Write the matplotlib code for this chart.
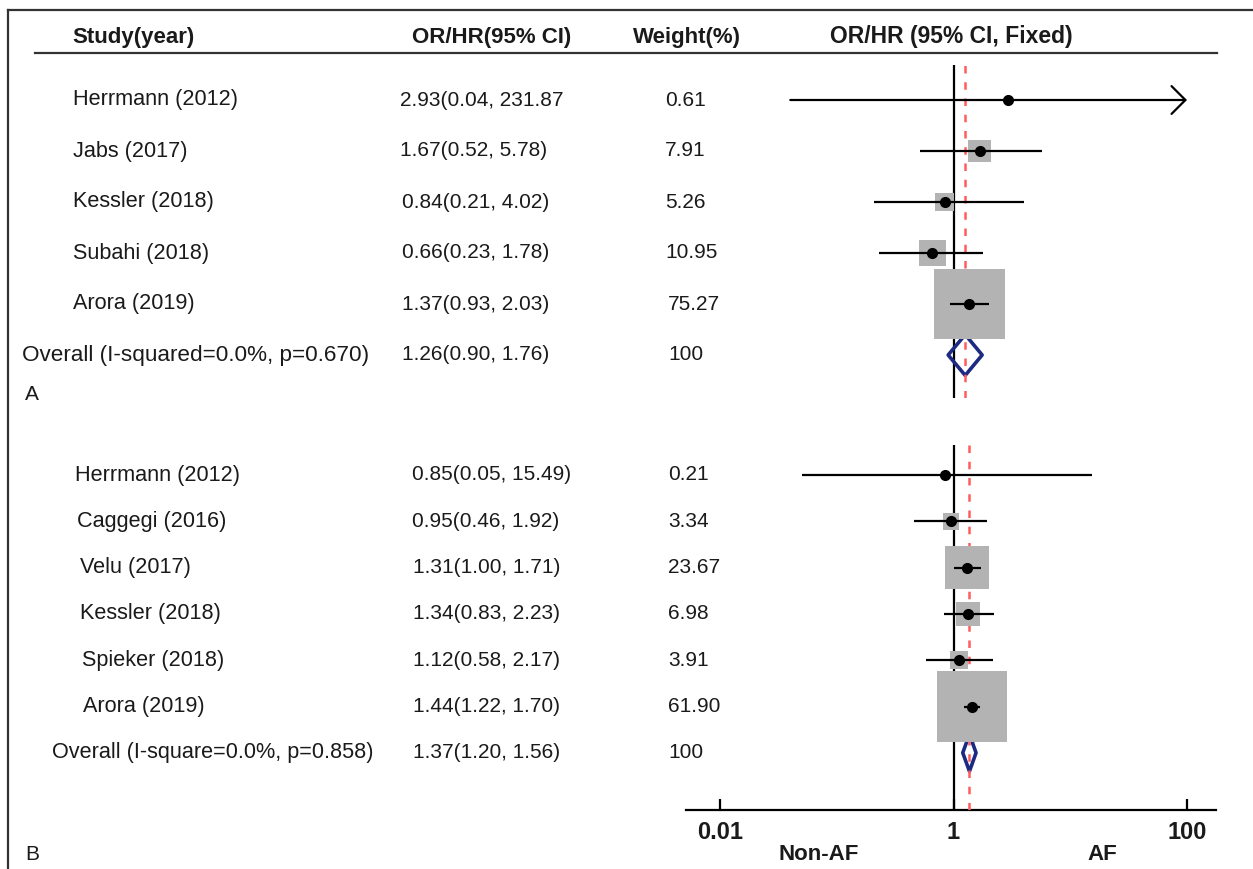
import numpy as np
import matplotlib
matplotlib.use("Agg")
import matplotlib.pyplot as plt
from matplotlib.patches import Rectangle, Polygon
from matplotlib.transforms import blended_transform_factory

plt.rcParams['font.family'] = ['Liberation Sans', 'DejaVu Sans']

# Panel A
studies_a = ["Herrmann (2012)", "Jabs (2017)", "Kessler (2018)", "Subahi (2018)", "Arora (2019)"]
est_a = [2.93, 1.67, 0.84, 0.66, 1.37]
lo_a = [0.04, 0.52, 0.21, 0.23, 0.93]
hi_a = [231.87, 5.78, 4.02, 1.78, 2.03]
wt_a = [0.61, 7.91, 5.26, 10.95, 75.27]
overall_a = ("Overall (I-squared=0.0%, p=0.670)", 1.26, 0.90, 1.76)

# Panel B
studies_b = ["Herrmann (2012)", "Caggegi (2016)", "Velu (2017)", "Kessler (2018)",
             "Spieker (2018)", "Arora (2019)"]
est_b = [0.85, 0.95, 1.31, 1.34, 1.12, 1.44]
lo_b = [0.05, 0.46, 1.00, 0.83, 0.58, 1.22]
hi_b = [15.49, 1.92, 1.71, 2.23, 2.17, 1.70]
wt_b = [0.21, 3.34, 23.67, 6.98, 3.91, 61.90]
overall_b = ("Overall (I-square=0.0%, p=0.858)", 1.37, 1.20, 1.56)

xticks = [0.01, 1, 100]
xticklabels = ["0.01", "1", "100"]

W, H = 1253, 869
TXT = "#1a1a1a"
FS = 15       # numeric columns
FS_LAB = 15.6  # study names

fig = plt.figure(figsize=(W / 100, H / 100), dpi=100)
bg = fig.add_axes([0, 0, 1, 1])
bg.set_xlim(0, W)
bg.set_ylim(H, 0)
bg.axis("off")

# frame and header rule
bg.plot([8, W], [10, 10], color="#333333", lw=1.6)
bg.plot([8, 8], [10, H], color="#333333", lw=1.6)
bg.plot([35, 1217], [53, 53], color="#333333", lw=1.6)

bg.text(72, 37, "Study(year)", fontsize=16, fontweight="bold", va="center", color=TXT)
bg.text(412, 37, "OR/HR(95% CI)", fontsize=16, fontweight="bold", va="center", color=TXT)
bg.text(633, 37, "Weight(%)", fontsize=16, fontweight="bold", va="center", color=TXT)
bg.text(830, 37, "OR/HR (95% CI, Fixed)", fontsize=16.5, fontweight="bold", va="center", color=TXT)
bg.text(25, 395, "A", fontsize=FS, va="center", color=TXT)
bg.text(25, 855, "B", fontsize=FS, va="center", color=TXT)
bg.text(819, 855, "Non-AF", fontsize=16, fontweight="bold", va="center", ha="center", color=TXT)
bg.text(1102, 855, "AF", fontsize=16, fontweight="bold", va="center", ha="center", color=TXT)

# log x range so that 0.01 -> 720px and 100 -> 1187px
ppd = (1187 - 720) / 4.0
x0, x1 = 686, 1216
xmin = 10 ** (-2 - (720 - x0) / ppd)
xmax = 10 ** (2 + (x1 - 1187) / ppd)


def panel(top, bottom, row0, spacing, studies, est, lo, hi, wt, overall,
          box_k, lab_x, or_x, wt_x, overall_fs, show_axis):
    ax = fig.add_axes([x0 / W, 1 - bottom / H, (x1 - x0) / W, (bottom - top) / H])
    ax.patch.set_visible(False)
    ax.set_xscale("log")
    ax.set_xlim(xmin, xmax)
    ax.set_ylim((bottom - row0) / spacing, (top - row0) / spacing)
    for s in ["top", "left", "right"]:
        ax.spines[s].set_visible(False)
    ax.set_yticks([])
    ax.minorticks_off()
    if show_axis:
        ax.spines["bottom"].set_linewidth(1.6)
        ax.set_xticks(xticks)
        ax.set_xticklabels(xticklabels, fontsize=17, fontweight="bold", color=TXT)
        ax.tick_params(axis="x", direction="in", length=8, width=1.6, pad=8)
    else:
        ax.spines["bottom"].set_visible(False)
        ax.set_xticks([])

    name_o, est_o, lo_o, hi_o = overall
    ax.axvline(1, color="black", lw=1.6, zorder=1)
    ax.axvline(est_o, color="#ff5c5c", lw=1.8, ls=(0, (3, 3.5)), zorder=3)

    for i in range(len(studies)):
        side = box_k * np.sqrt(wt[i])
        hx = side / 2 / ppd
        hy = side / 2 / spacing
        ax.add_patch(Rectangle((est[i] * 10 ** -hx, i - hy),
                               est[i] * (10 ** hx - 10 ** -hx), 2 * hy,
                               facecolor="#b3b3b3", edgecolor="none", zorder=4))
        if hi[i] > 100:
            ax.annotate("", xy=(100, i), xytext=(lo[i], i),
                        arrowprops=dict(arrowstyle="->,head_length=0.5,head_width=0.5",
                                        color="black", lw=1.6, shrinkA=0, shrinkB=0,
                                        mutation_scale=20), zorder=5)
        else:
            ax.plot([lo[i], hi[i]], [i, i], color="black", lw=1.6, zorder=5,
                    solid_capstyle="butt")
        ax.plot(est[i], i, "o", color="black", ms=7, zorder=6)

    r = len(studies)
    ax.add_patch(Polygon([(lo_o, r), (est_o, r - 0.4), (hi_o, r), (est_o, r + 0.4)],
                         closed=True, facecolor="none", edgecolor="#1c2a82", lw=2.6,
                         zorder=2, joinstyle="round"))

    tr = blended_transform_factory(bg.transData, ax.transData)
    names = list(studies) + [name_o]
    ests = list(est) + [est_o]
    los = list(lo) + [lo_o]
    his = list(hi) + [hi_o]
    wts = ["%.2f" % w for w in wt] + ["100"]
    for i in range(len(names)):
        ci = "%.2f(%.2f, %.2f)" % (ests[i], los[i], his[i])
        if his[i] > 100:
            ci = ci[:-1]
        fs = overall_fs if i == len(names) - 1 else FS_LAB
        ax.text(lab_x[i], i, names[i], transform=tr, fontsize=fs, va="center",
                color=TXT, clip_on=False)
        ax.text(or_x[i], i, ci, transform=tr, fontsize=FS, va="center",
                color=TXT, clip_on=False)
        ax.text(wt_x[i], i, wts[i], transform=tr, fontsize=FS, va="center",
                color=TXT, clip_on=False)
    return ax


panel(65, 398, 100, 51, studies_a, est_a, lo_a, hi_a, wt_a, overall_a, 8.1,
      [73, 73, 73, 73, 73, 22], [400, 400, 402, 402, 402, 402],
      [665, 665, 665, 665, 668, 668], 16.2, False)
panel(445, 810, 475, 46.3, studies_b, est_b, lo_b, hi_b, wt_b, overall_b, 9.0,
      [75, 77, 80, 80, 82, 83, 52], [412, 412, 413, 413, 413, 413, 413],
      [668] * 7, 15.6, True)

fig.savefig("out.png", dpi=100)
